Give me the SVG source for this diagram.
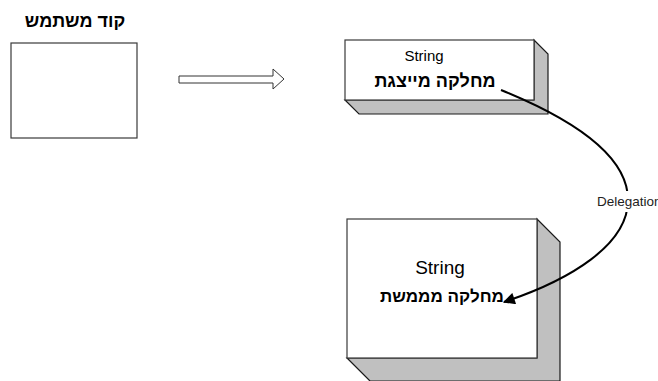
<svg xmlns="http://www.w3.org/2000/svg" width="658" height="381" viewBox="0 0 658 381">
  <defs>
    <style>
      .face { fill: #ffffff; stroke: #3a3a3a; stroke-width: 1.2; }
      .side { fill: #c0c0c0; stroke: #1a1a1a; stroke-width: 1.2; stroke-linejoin: miter; }
      .lat { font-family: "Liberation Sans", Arial, sans-serif; fill: #000; text-anchor: middle; }
      .heb { font-family: "Liberation Sans", "DejaVu Sans", Arial, sans-serif; font-weight: bold; fill: #000; text-anchor: middle; }
      .conn { fill: none; stroke: #000; stroke-width: 2; }
    </style>
    <marker id="head" viewBox="0 0 10 10" refX="9" refY="5" markerWidth="7" markerHeight="6" markerUnits="strokeWidth" orient="auto">
      <path d="M0,0 L10,5 L0,10 Z" fill="#000"/>
    </marker>
  </defs>

  <rect width="658" height="381" fill="#ffffff"/>

  <!-- user code block -->
  <g id="user-code">
    <text class="heb" x="75" y="27" font-size="18" direction="rtl">קוד משתמש</text>
    <rect class="face" x="11" y="43" width="126" height="95"/>
  </g>

  <!-- hollow arrow -->
  <g id="uses-arrow">
    <polygon points="179,76 273,76 273,69 284,79 273,89 273,83 179,83" fill="#ffffff" stroke="#333" stroke-width="1"/>
  </g>

  <!-- interface class block -->
  <g id="interface-class">
    <polygon class="side" points="345,100 359,114 548,114 548,54 534,40 534,100"/>
    <rect class="face" x="345" y="40" width="189" height="60"/>
    <text class="lat" x="424" y="61" font-size="15">String</text>
    <text class="heb" x="435" y="87" font-size="18" direction="rtl">מחלקה מייצגת</text>
  </g>

  <!-- implementation class block -->
  <g id="impl-class">
    <polygon class="side" points="347,358 370,381 560,381 560,242 537,219 537,358"/>
    <rect class="face" x="347" y="219" width="190" height="139"/>
    <text class="lat" x="440" y="274" font-size="19">String</text>
    <text class="heb" x="442" y="302" font-size="17" direction="rtl">מחלקה מממשת</text>
  </g>

  <!-- delegation connector -->
  <g id="connectors">
    <path class="conn" d="M501,90 C570,118 628,155 628,200 C628,245 570,280 504,302" marker-end="url(#head)"/>
    <rect x="596" y="191" width="62" height="21" fill="#ffffff"/>
    <text x="597" y="206" font-family="'Liberation Sans', Arial, sans-serif" font-size="13.5" fill="#222">Delegation</text>
  </g>
</svg>
